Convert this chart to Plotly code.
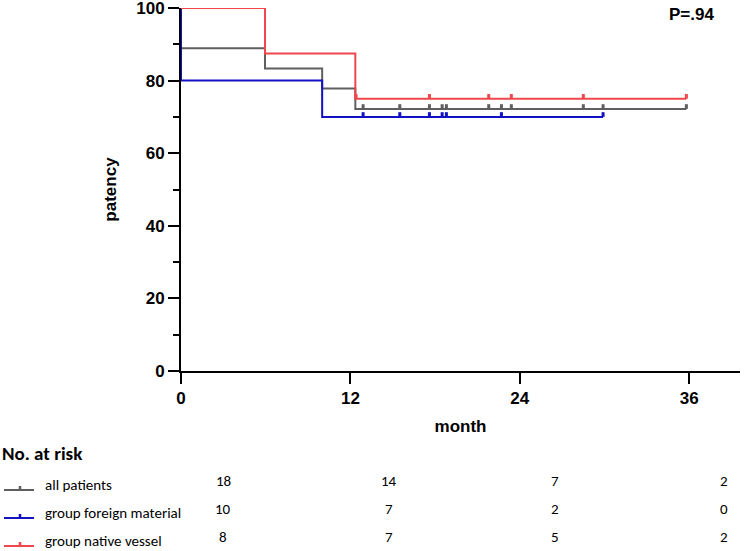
import plotly.graph_objects as go

# ---- data ----
all_t = [0, 0, 5.95, 10.0, 12.35, 35.8]
all_s = [100, 88.9, 83.3, 77.8, 72.2, 72.2]
all_cens_t = [12.9, 15.5, 17.6, 18.5, 18.8, 21.8, 22.7, 23.4, 28.5, 29.9, 35.8]
all_cens_s = [72.2] * len(all_cens_t)

foreign_t = [0, 0, 10.0, 29.9]
foreign_s = [100, 80, 70, 70]
foreign_cens_t = [12.9, 15.5, 17.6, 18.5, 18.8, 22.7, 29.9]
foreign_cens_s = [70] * len(foreign_cens_t)

native_t = [0, 5.95, 12.35, 35.8]
native_s = [100, 87.5, 75, 75]
native_cens_t = [12.4, 17.6, 21.8, 23.4, 28.5, 35.8]
native_cens_s = [75] * len(native_cens_t)

group_names = ["all patients", "group foreign material", "group native vessel"]
risk_times = [0, 12, 24, 36]
risk_all = [18, 14, 7, 2]
risk_foreign = [10, 7, 2, 0]
risk_native = [8, 7, 5, 2]
p_text = "P=.94"

# ---- styles ----
GRAY = "#5f5f5f"
BLUE = "#1212c4"
RED = "#f0474c"

W, H = 749, 551
L, R, T, B = 181, 9, 8, 180
pw, ph = W - L - R, H - T - B

fig = go.Figure()

def km(t, s, cens_t, cens_s, color):
    fig.add_trace(go.Scatter(x=t, y=s, mode="lines", line=dict(color=color, width=2, shape="hv"),
                             showlegend=False, hoverinfo="skip"))
    fig.add_trace(go.Scatter(x=cens_t, y=cens_s, mode="markers",
                             marker=dict(size=1, color=color, opacity=0),
                             error_y=dict(type="data", symmetric=False, array=[1.3] * len(cens_t),
                                          arrayminus=[0] * len(cens_t), color=color, thickness=3, width=0),
                             showlegend=False, hoverinfo="skip"))

km(all_t, all_s, all_cens_t, all_cens_s, GRAY)
km(foreign_t, foreign_s, foreign_cens_t, foreign_cens_s, BLUE)
km(native_t, native_s, native_cens_t, native_cens_s, RED)

FAM = "Liberation Sans, Arial, sans-serif"
axis_font = dict(family=FAM, size=17, color="black", weight="bold")
fig.update_xaxes(range=[0, 39.6], tickvals=[0, 12, 24, 36], ticks="outside", ticklen=11, tickwidth=2,
                 tickcolor="black", ticklabeloverflow="allow",
                 showline=True, linewidth=2, linecolor="black", showgrid=False, zeroline=False,
                 tickfont=axis_font,
                 title=dict(text="month", font=dict(family=FAM, size=17, color="black", weight="bold"),
                            standoff=13))
fig.update_yaxes(range=[0, 100], tickvals=[0, 20, 40, 60, 80, 100], ticks="outside", ticklen=11, tickwidth=2,
                 tickcolor="black", ticklabeloverflow="allow",
                 minor=dict(dtick=10, ticks="outside", ticklen=6, tickwidth=2, tickcolor="black", showgrid=False),
                 showline=True, linewidth=2, linecolor="black", showgrid=False, zeroline=False,
                 tickfont=axis_font,
                 title=dict(text="patency", font=dict(family=FAM, size=17, color="black", weight="bold"),
                            standoff=15))

def px_x(p):
    return (p - L) / pw

def px_y(p):
    return (H - B - p) / ph

ann = []
shapes = []
ann.append(dict(text=p_text, xref="paper", yref="paper", x=px_x(691), y=px_y(15), xanchor="center",
                yanchor="middle", showarrow=False,
                font=dict(family=FAM, size=17, color="black", weight="bold")))
TF = "Carlito, Lato, sans-serif"
ann.append(dict(text="No. at risk", xref="paper", yref="paper", x=px_x(0), y=px_y(453), xanchor="left",
                yanchor="middle", showarrow=False,
                font=dict(family=TF, size=19, color="black", weight="bold")))
row_y = [485, 513, 541]
col_x = [223, 389, 555, 724]
colors = [GRAY, BLUE, RED]
risks = [risk_all, risk_foreign, risk_native]
tf = dict(family=TF, size=15, color="black")
nf = dict(family=TF, size=15, color="black")
for ri, (name, yy, c, rk) in enumerate(zip(group_names, row_y, colors, risks)):
    ann.append(dict(text=name, xref="paper", yref="paper", x=px_x(43), y=px_y(yy), xanchor="left",
                    yanchor="middle", showarrow=False, font=tf))
    for xx, v in zip(col_x, rk):
        ann.append(dict(text=str(v), xref="paper", yref="paper", x=px_x(xx), y=px_y(yy - 4), xanchor="center",
                        yanchor="middle", showarrow=False, font=nf))
    ly = yy + 5
    shapes.append(dict(type="line", xref="paper", yref="paper", x0=px_x(4), x1=px_x(34), y0=px_y(ly), y1=px_y(ly),
                       line=dict(color=c, width=2)))
    shapes.append(dict(type="line", xref="paper", yref="paper", x0=px_x(20), x1=px_x(20), y0=px_y(ly),
                       y1=px_y(ly - 4), line=dict(color=c, width=2.5)))

fig.update_layout(width=W, height=H, margin=dict(l=L, r=R, t=T, b=B, autoexpand=False),
                  plot_bgcolor="white", paper_bgcolor="white", annotations=ann, shapes=shapes)

fig.write_html("out.html", config={"displayModeBar": False},
               post_script="document.body.style.margin='0';")
